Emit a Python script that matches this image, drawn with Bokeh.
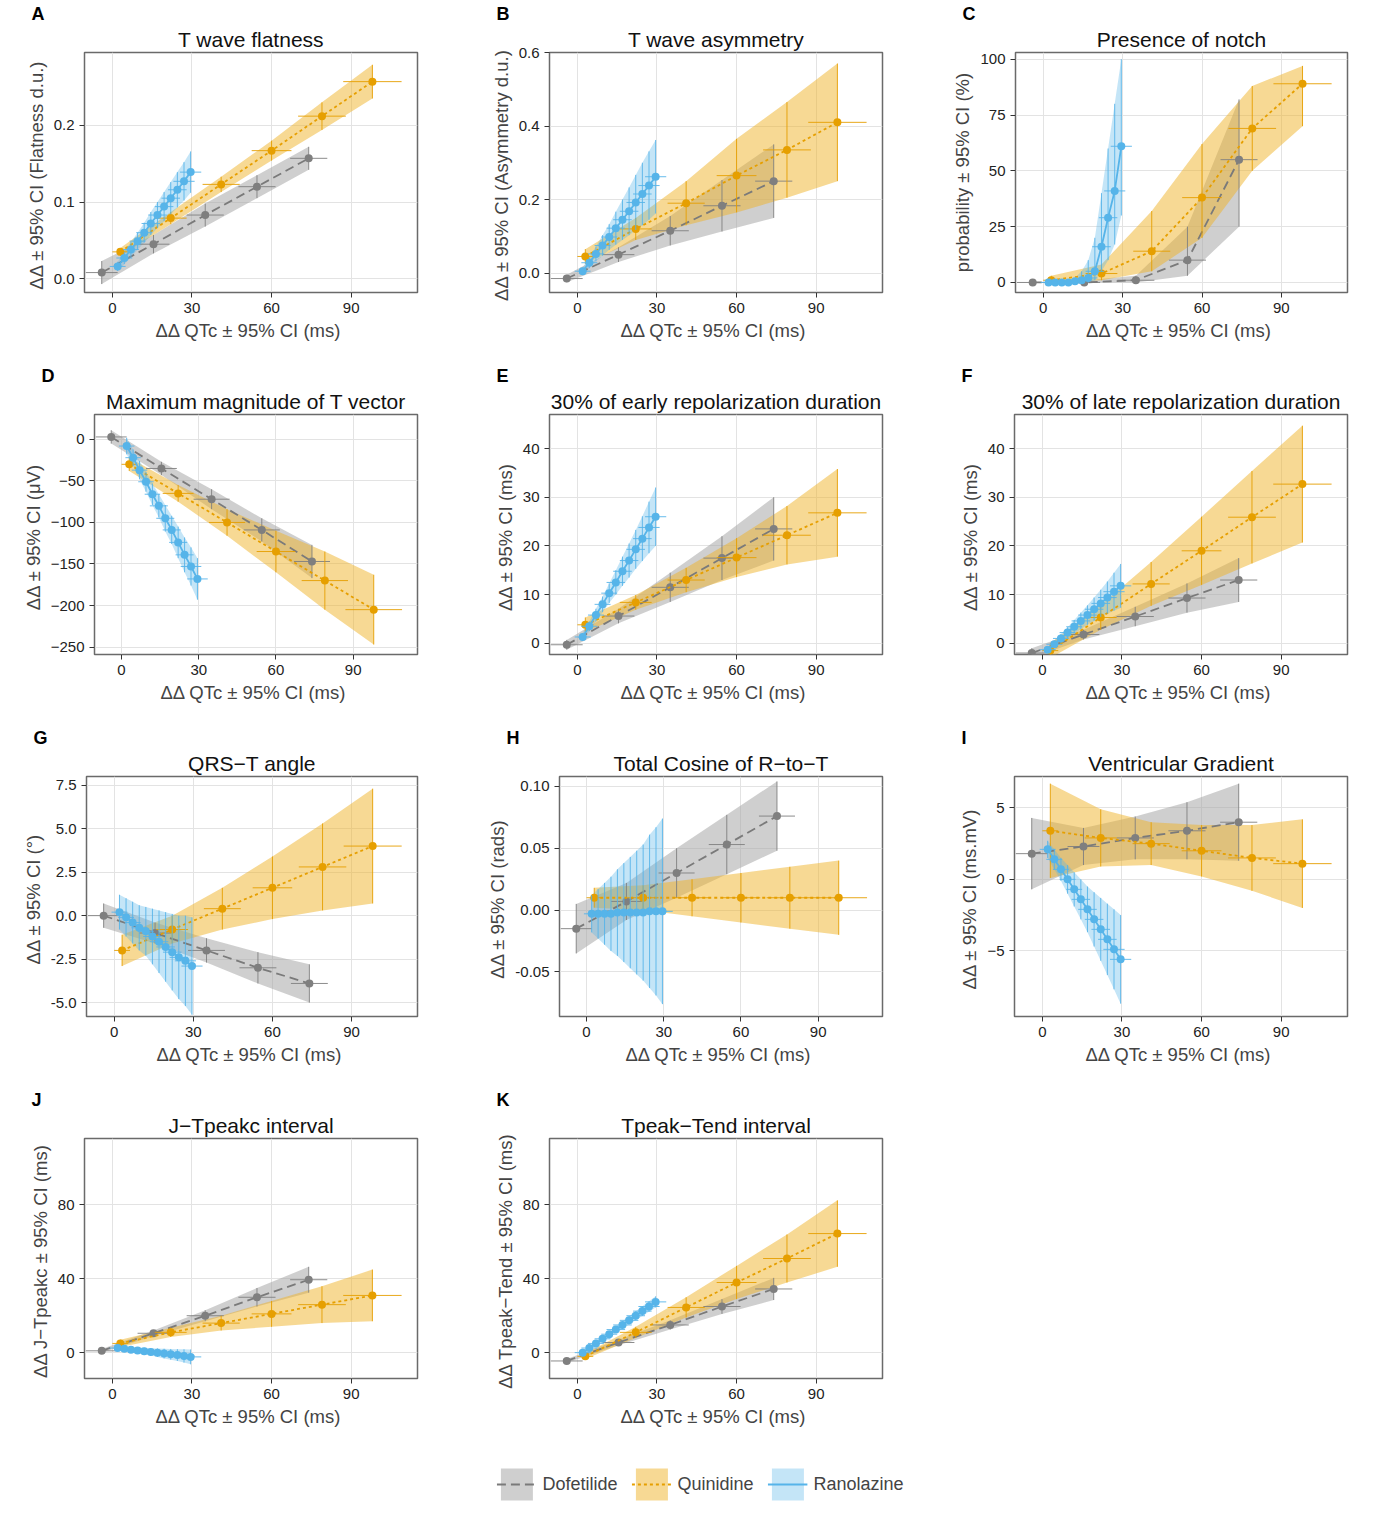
from bokeh.plotting import figure
from bokeh.models import (FixedTicker, Title, Legend, LegendItem, Spacer)
from bokeh.layouts import row, column
from bokeh.embed import file_html
from bokeh.resources import INLINE

# ---- shared x data (ΔΔQTc) ----
dof_x = [-4, 15.5, 35, 54.5, 74]
dof_xe = [6, 6, 7, 7, 7]
qui_x = [3, 22, 41, 60, 79, 98]
qui_xe = [3, 6, 7, 7.5, 9, 11]
ran_x = [2, 4.5, 7, 9.5, 12, 14.5, 17, 19.5, 22, 24.5, 27, 29.5]
ran_xe = [3, 3, 3, 3, 3, 3.5, 3.5, 3.5, 3.5, 3.5, 4, 4]

# ---- A: T wave flatness ----
A_dof = [0.008, 0.045, 0.083, 0.12, 0.157]
A_dof_e = [0.015, 0.012, 0.015, 0.015, 0.015]
A_qui = [0.035, 0.079, 0.123, 0.167, 0.212, 0.257]
A_qui_e = [0.005, 0.008, 0.01, 0.013, 0.018, 0.022]
A_ran = [0.016, 0.027, 0.038, 0.049, 0.06, 0.072, 0.083, 0.094, 0.105, 0.116, 0.127, 0.139]
A_ran_e = [0.006, 0.008, 0.01, 0.011, 0.013, 0.015, 0.017, 0.019, 0.021, 0.023, 0.025, 0.027]
# ---- B: T wave asymmetry ----
B_dof = [-0.015, 0.05, 0.115, 0.183, 0.25]
B_dof_e = [0.01, 0.02, 0.04, 0.07, 0.1]
B_qui = [0.045, 0.12, 0.19, 0.265, 0.335, 0.41]
B_qui_e = [0.02, 0.03, 0.06, 0.1, 0.13, 0.16]
B_ran = [0.005, 0.028, 0.052, 0.075, 0.098, 0.122, 0.145, 0.168, 0.192, 0.215, 0.238, 0.262]
B_ran_e = [0.01, 0.015, 0.02, 0.028, 0.035, 0.045, 0.055, 0.065, 0.075, 0.085, 0.093, 0.1]
# ---- C: Presence of notch (asymmetric CI) ----
C_dof = [0, 0, 1, 10, 55]
C_dof_lo = [0, 0, 0, 3, 25]
C_dof_hi = [0, 1, 3, 25, 82]
C_qui = [1, 4, 14, 38, 69, 89]
C_qui_lo = [0, 1, 5, 20, 50, 70]
C_qui_hi = [3, 8, 32, 62, 88, 97]
C_ran = [0, 0, 0, 0, 0.5, 1, 2, 5, 16, 29, 41, 61]
C_ran_lo = [0, 0, 0, 0, 0, 0, 0, 1, 5, 10, 17, 30]
C_ran_hi = [0, 0, 0.5, 1, 2, 5, 10, 20, 40, 60, 80, 100]
# ---- D: Maximum magnitude of T vector ----
D_dof = [3, -35, -72, -109, -147]
D_dof_e = [8, 8, 12, 14, 20]
D_qui = [-30, -65, -100, -135, -170, -205]
D_qui_e = [8, 10, 16, 25, 35, 42]
D_ran = [-8, -22, -37, -51, -66, -80, -95, -109, -124, -139, -153, -168]
D_ran_e = [10, 10, 11, 12, 13, 14, 16, 17, 19, 21, 23, 25]
# ---- E: 30% early repolarization ----
E_dof = [-0.3, 5.6, 11.5, 17.5, 23.5]
E_dof_e = [1, 1.5, 3, 4.5, 6.5]
E_qui = [3.8, 8.4, 13, 17.6, 22.2, 26.8]
E_qui_e = [1.5, 1.5, 2.5, 4, 6, 9]
E_ran = [1.3, 3.5, 5.8, 8.0, 10.3, 12.5, 14.8, 17.0, 19.3, 21.5, 23.8, 26.0]
E_ran_e = [0.8, 1, 1.3, 1.6, 2, 2.5, 3, 3.5, 4, 4.6, 5.3, 6]
# ---- F: 30% late repolarization ----
F_dof = [-2, 1.8, 5.5, 9.3, 13]
F_dof_e = [1, 1, 2, 3, 4.5]
F_qui = [-1.5, 5.3, 12.2, 19, 25.9, 32.7]
F_qui_e = [1.5, 2.5, 4.5, 7, 9.5, 12]
F_ran = [-1.3, -0.2, 1.0, 2.2, 3.4, 4.6, 5.8, 7.0, 8.2, 9.4, 10.6, 11.8]
F_ran_e = [0.5, 0.7, 0.9, 1.1, 1.4, 1.7, 2, 2.4, 2.8, 3.3, 3.9, 4.5]
# ---- G: QRS-T angle ----
G_dof = [0, -1, -2, -3, -3.9]
G_dof_e = [0.7, 0.6, 0.7, 0.9, 1.1]
G_qui = [-2, -0.8, 0.4, 1.6, 2.8, 4.0]
G_qui_e = [0.9, 0.8, 1.2, 1.8, 2.5, 3.3]
G_ran = [0.2, -0.1, -0.4, -0.7, -0.9, -1.2, -1.5, -1.8, -2.1, -2.4, -2.6, -2.9]
G_ran_e = [1, 1.1, 1.2, 1.3, 1.4, 1.6, 1.8, 2, 2.2, 2.4, 2.6, 2.8]
# ---- H: Total cosine R-to-T ----
H_dof = [-0.015, 0.007, 0.030, 0.053, 0.076]
H_dof_e = [0.02, 0.015, 0.02, 0.024, 0.028]
H_qui = [0.01, 0.01, 0.01, 0.01, 0.01, 0.01]
H_qui_e = [0.008, 0.01, 0.015, 0.02, 0.025, 0.03]
H_ran = [-0.003, -0.003, -0.003, -0.003, -0.002, -0.002, -0.002, -0.002, -0.002, -0.001, -0.001, -0.001]
H_ran_e = [0.015, 0.02, 0.025, 0.03, 0.035, 0.04, 0.045, 0.05, 0.055, 0.062, 0.068, 0.075]
# ---- I: Ventricular gradient ----
I_dof = [1.8, 2.3, 2.9, 3.4, 4.0]
I_dof_e = [2.5, 1.3, 1.5, 2.0, 2.7]
I_qui = [3.4, 2.9, 2.5, 2.0, 1.5, 1.1]
I_qui_e = [3.3, 2.0, 1.5, 1.8, 2.3, 3.1]
I_ran = [2.1, 1.4, 0.7, 0.0, -0.7, -1.4, -2.1, -2.8, -3.5, -4.2, -4.9, -5.6]
I_ran_e = [0.6, 0.7, 0.8, 1, 1.2, 1.4, 1.6, 1.9, 2.2, 2.5, 2.8, 3.1]
# ---- J: J-Tpeakc ----
J_dof = [1, 10.5, 20, 30, 39.5]
J_dof_e = [1, 1.5, 3, 5, 7]
J_qui = [5, 11, 16, 21, 26, 31]
J_qui_e = [2, 2.5, 4, 7, 10, 14]
J_ran = [2.5, 2.1, 1.6, 1.2, 0.8, 0.4, 0, -0.5, -0.9, -1.3, -1.8, -2.3]
J_ran_e = [1, 1.2, 1.4, 1.6, 1.8, 2, 2.3, 2.6, 2.9, 3.2, 3.6, 4]
# ---- K: Tpeak-Tend ----
K_dof = [-4.5, 5.5, 15, 25, 34.5]
K_dof_e = [1, 1.5, 2.5, 4, 6]
K_qui = [-2, 11, 24.5, 38, 51, 64.5]
K_qui_e = [1.5, 3, 5.5, 9, 13, 18]
K_ran = [0, 2.5, 5, 7.5, 10, 12.5, 15, 17.5, 20, 22.5, 25, 27.5]
K_ran_e = [1, 1.1, 1.2, 1.4, 1.6, 1.8, 2, 2.2, 2.4, 2.6, 2.8, 3]

x_ticks = [0, 30, 60, 90]
XLAB = "ΔΔ QTc ±  95% CI (ms)"
FONT = "Liberation Sans"

STY = {
    "dof": dict(line="#7a7a7a", band="#a8a8a8", balpha=0.55, dash="9 5", pt="#7f7f7f"),
    "qui": dict(line="#E69F00", band="#F0B429", balpha=0.5, dash="3 3", pt="#E69F00"),
    "ran": dict(line="#56B4E9", band="#56B4E9", balpha=0.35, dash="solid", pt="#56B4E9"),
}
XS = {"dof": (dof_x, dof_xe), "qui": (qui_x, qui_xe), "ran": (ran_x, ran_xe)}


def lohi(y, e):
    return [a - b for a, b in zip(y, e)], [a + b for a, b in zip(y, e)]


panels = [
    ("A", "T wave flatness", "ΔΔ ±  95% CI (Flatness d.u.)", (-0.018, 0.295), [0, 0.1, 0.2], {0: "0.0", 0.1: "0.1", 0.2: "0.2"},
     {"dof": (A_dof, *lohi(A_dof, A_dof_e)), "qui": (A_qui, *lohi(A_qui, A_qui_e)), "ran": (A_ran, *lohi(A_ran, A_ran_e))}),
    ("B", "T wave asymmetry", "ΔΔ ±  95% CI (Asymmetry d.u.)", (-0.053, 0.6), [0, 0.2, 0.4, 0.6], {0: "0.0", 0.2: "0.2", 0.4: "0.4", 0.6: "0.6"},
     {"dof": (B_dof, *lohi(B_dof, B_dof_e)), "qui": (B_qui, *lohi(B_qui, B_qui_e)), "ran": (B_ran, *lohi(B_ran, B_ran_e))}),
    ("C", "Presence of notch", "probability ± 95% CI (%)", (-4.5, 103), [0, 25, 50, 75, 100], None,
     {"dof": (C_dof, C_dof_lo, C_dof_hi), "qui": (C_qui, C_qui_lo, C_qui_hi), "ran": (C_ran, C_ran_lo, C_ran_hi)}),
    ("D", "Maximum magnitude of T vector", "ΔΔ ±  95% CI (μV)", (-259, 30), [-250, -200, -150, -100, -50, 0], None,
     {"dof": (D_dof, *lohi(D_dof, D_dof_e)), "qui": (D_qui, *lohi(D_qui, D_qui_e)), "ran": (D_ran, *lohi(D_ran, D_ran_e))}),
    ("E", "30% of early repolarization duration", "ΔΔ ±  95% CI (ms)", (-2.3, 47), [0, 10, 20, 30, 40], None,
     {"dof": (E_dof, *lohi(E_dof, E_dof_e)), "qui": (E_qui, *lohi(E_qui, E_qui_e)), "ran": (E_ran, *lohi(E_ran, E_ran_e))}),
    ("F", "30% of late repolarization duration", "ΔΔ ±  95% CI (ms)", (-2.3, 47), [0, 10, 20, 30, 40], None,
     {"dof": (F_dof, *lohi(F_dof, F_dof_e)), "qui": (F_qui, *lohi(F_qui, F_qui_e)), "ran": (F_ran, *lohi(F_ran, F_ran_e))}),
    ("G", "QRS−T angle", "ΔΔ ±  95% CI (°)", (-5.8, 8), [-5, -2.5, 0, 2.5, 5, 7.5], {-5: "-5.0", -2.5: "-2.5", 0: "0.0", 2.5: "2.5", 5: "5.0", 7.5: "7.5"},
     {"dof": (G_dof, *lohi(G_dof, G_dof_e)), "qui": (G_qui, *lohi(G_qui, G_qui_e)), "ran": (G_ran, *lohi(G_ran, G_ran_e))}),
    ("H", "Total Cosine of R−to−T", "ΔΔ ±  95% CI (rads)", (-0.086, 0.108), [-0.05, 0, 0.05, 0.1], {-0.05: "-0.05", 0: "0.00", 0.05: "0.05", 0.1: "0.10"},
     {"dof": (H_dof, *lohi(H_dof, H_dof_e)), "qui": (H_qui, *lohi(H_qui, H_qui_e)), "ran": (H_ran, *lohi(H_ran, H_ran_e))}),
    ("I", "Ventricular Gradient", "ΔΔ ±  95% CI (ms.mV)", (-9.6, 7.2), [-5, 0, 5], None,
     {"dof": (I_dof, *lohi(I_dof, I_dof_e)), "qui": (I_qui, *lohi(I_qui, I_qui_e)), "ran": (I_ran, *lohi(I_ran, I_ran_e))}),
    ("J", "J−Tpeakc interval", "ΔΔ J−Tpeakc ±  95% CI (ms)", (-14, 116), [0, 40, 80], None,
     {"dof": (J_dof, *lohi(J_dof, J_dof_e)), "qui": (J_qui, *lohi(J_qui, J_qui_e)), "ran": (J_ran, *lohi(J_ran, J_ran_e))}),
    ("K", "Tpeak−Tend interval", "ΔΔ Tpeak−Tend ±  95% CI (ms)", (-14, 116), [0, 40, 80], None,
     {"dof": (K_dof, *lohi(K_dof, K_dof_e)), "qui": (K_qui, *lohi(K_qui, K_qui_e)), "ran": (K_ran, *lohi(K_ran, K_ran_e))}),
]


def make_panel(spec, right_border):
    letter, title, ylab, yr, yt, yover, data = spec
    p = figure(width=65 + 333 + right_border, height=362, x_range=(-10.5, 115), y_range=yr,
               output_backend="svg", toolbar_location=None, title=None,
               min_border_left=65, min_border_right=right_border, min_border_top=52, min_border_bottom=70)
    p.add_layout(Title(text=title, align="center", text_font=FONT, text_font_size="21px",
                       text_font_style="normal", text_color="#111111", standoff=4), "above")
    p.add_layout(Title(text=letter, align="left", offset=-53, text_font=FONT, text_font_size="18px",
                       text_font_style="bold", standoff=0, text_color="#000000"), "above")
    p.outline_line_color = "#6a6a6a"
    p.outline_line_width = 1.5
    p.grid.grid_line_color = "#e3e3e3"
    for ax in (p.xaxis[0], p.yaxis[0]):
        ax.axis_line_color = None
        ax.major_tick_line_color = "#333333"
        ax.minor_tick_line_color = None
        ax.major_tick_out = 5
        ax.major_tick_in = 0
        ax.major_label_text_font = FONT
        ax.major_label_text_font_size = "15px"
        ax.major_label_text_color = "#222222"
        ax.axis_label_text_font = FONT
        ax.axis_label_text_font_size = "18.5px"
        ax.axis_label_text_font_style = "normal"
        ax.axis_label_standoff = 4
    p.xaxis.ticker = FixedTicker(ticks=x_ticks)
    p.yaxis.ticker = FixedTicker(ticks=yt)
    if yover:
        p.yaxis.major_label_overrides = yover
    p.xaxis.axis_label = XLAB
    p.yaxis.axis_label = ylab
    for k in ("dof", "qui", "ran"):
        xs, xe = XS[k]
        y, lo, hi = data[k]
        s = STY[k]
        p.varea(x=xs, y1=lo, y2=hi, fill_color=s["band"], fill_alpha=s["balpha"])
    for k in ("dof", "qui", "ran"):
        xs, xe = XS[k]
        y, lo, hi = data[k]
        s = STY[k]
        p.segment(x0=xs, x1=xs, y0=lo, y1=hi, line_color=s["pt"], line_width=1, line_alpha=0.9)
        p.segment(x0=[a - b for a, b in zip(xs, xe)], x1=[a + b for a, b in zip(xs, xe)], y0=y, y1=y,
                  line_color=s["pt"], line_width=1, line_alpha=0.9)
        p.line(xs, y, line_color=s["line"], line_width=1.8, line_dash=s["dash"])
        p.scatter(xs, y, size=8, fill_color=s["pt"], line_color=None)
    return p


figs = []
for i, spec in enumerate(panels):
    col = i % 3
    figs.append(make_panel(spec, 15 if col == 2 else 67))

# legend figure
lf = figure(width=470, height=72, output_backend="svg", toolbar_location=None,
            x_range=(0, 1), y_range=(0, 1), min_border=0)
lf.axis.visible = False
lf.grid.visible = False
lf.outline_line_color = None
items = []
for k, name in (("dof", "Dofetilide"), ("qui", "Quinidine"), ("ran", "Ranolazine")):
    s = STY[k]
    b = lf.varea(x=[2, 3], y1=[2, 2], y2=[3, 3], fill_color=s["band"], fill_alpha=s["balpha"])
    l = lf.line([2, 3], [2, 2], line_color=s["line"], line_width=1.8, line_dash=s["dash"])
    items.append(LegendItem(label=name, renderers=[b, l]))
leg = Legend(items=items, orientation="horizontal", location="center", glyph_width=40, glyph_height=40,
             label_text_font=FONT, label_text_font_size="18px", border_line_color=None,
             background_fill_alpha=0, spacing=14, label_standoff=6)
lf.add_layout(leg, "center")

grid = column(
    row(Spacer(width=19), figs[0], figs[1], figs[2]),
    row(Spacer(width=19), figs[3], figs[4], figs[5]),
    row(Spacer(width=19), figs[6], figs[7], figs[8]),
    row(Spacer(width=19), figs[9], figs[10]),
    row(Spacer(width=465), lf),
)
open("out.html", "w").write(file_html(grid, INLINE))
